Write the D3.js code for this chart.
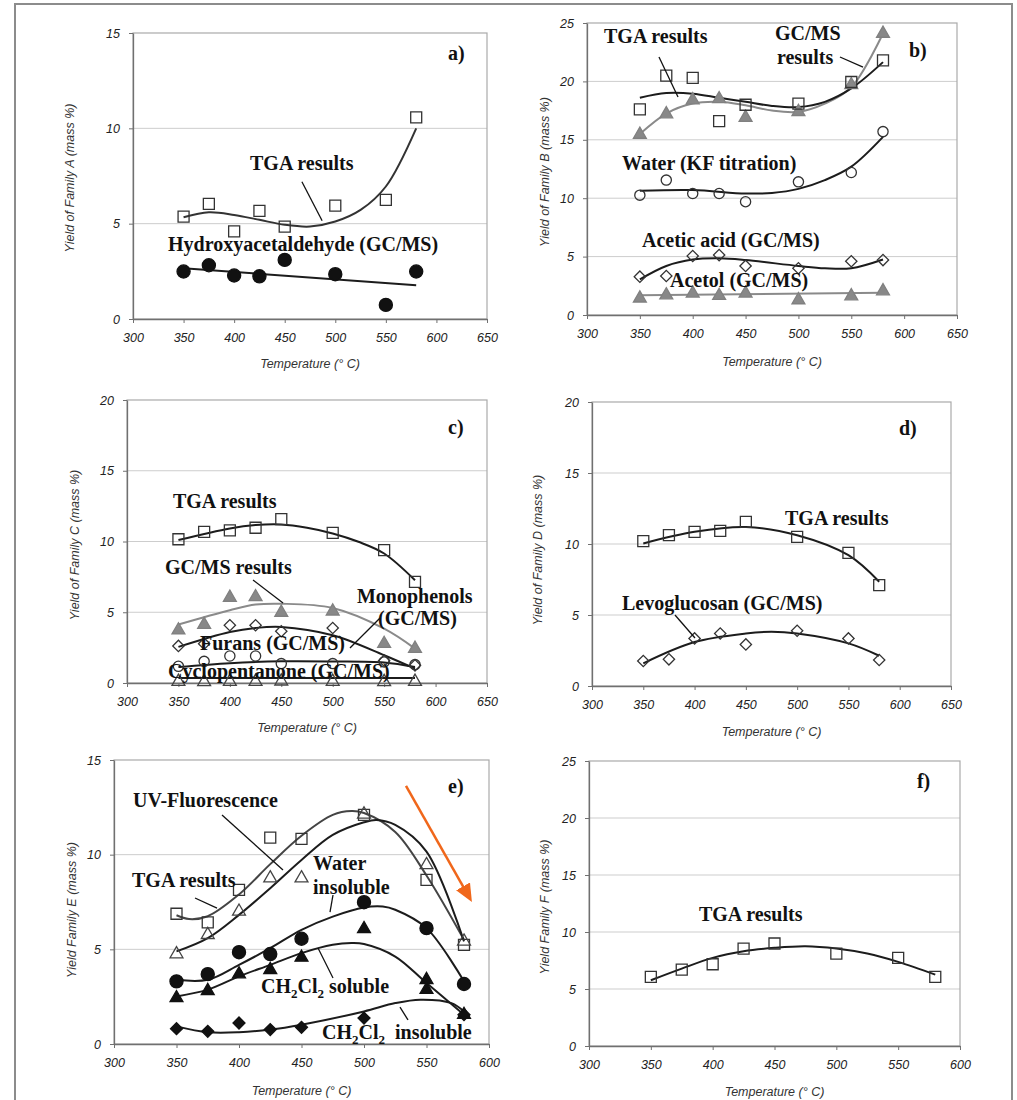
<!DOCTYPE html>
<html>
<head>
<meta charset="utf-8">
<script src="https://cdn.jsdelivr.net/npm/d3@7"></script>
<style>
  body { margin: 0; background: #fff; }
  svg { display: block; }
  .tick text { font-family: "Liberation Sans", Arial, sans-serif; font-style: italic; font-size: 12.5px; fill: #222; }
  .lbl { font-family: "Liberation Serif", "Times New Roman", serif; font-weight: bold; font-size: 20px; fill: #111; }
  .atitle { font-family: "Liberation Sans", Arial, sans-serif; font-style: italic; font-size: 12.5px; fill: #333; }
</style>
</head>
<body>
<svg id="chart" width="1017" height="1100"></svg>
<script>
// ---- shared axis values ----
const temps = [350, 375, 400, 425, 450, 500, 550, 580];
const xTicks650 = [300, 350, 400, 450, 500, 550, 600, 650];
const xTicks600 = [300, 350, 400, 450, 500, 550, 600];
const yTicks15 = [0, 5, 10, 15];
const yTicks20 = [0, 5, 10, 15, 20];
const yTicks25 = [0, 5, 10, 15, 20, 25];

// ---- a) Family A ----
const aTga = [5.37, 6.04, 4.6, 5.67, 4.85, 5.95, 6.25, 10.57];
const aHydroxy = [2.49, 2.82, 2.28, 2.24, 3.1, 2.35, 0.74, 2.49];
const aTgaFitT = [350, 375, 400, 425, 450, 475, 500, 525, 550, 580];
const aTgaFit = [5.34, 5.6, 5.46, 5.2, 4.94, 4.85, 5.11, 5.72, 6.95, 10.0];
const aHydroxyFitT = [350, 580];
const aHydroxyFit = [2.66, 1.77];

// ---- b) Family B ----
const bTga = [17.6, 20.5, 20.3, 16.6, 18.0, 18.1, 19.95, 21.8];
const bGcms = [15.45, 17.2, 18.4, 18.5, 16.9, 17.4, 19.7, 24.1];
const bWater = [10.26, 11.55, 10.4, 10.4, 9.7, 11.4, 12.2, 15.7];
const bAcetic = [3.28, 3.34, 5.05, 5.13, 4.2, 4.0, 4.6, 4.7];
const bAcetol = [1.43, 1.7, 1.85, 1.65, 1.85, 1.28, 1.62, 2.05];
const bFitT = [350, 375, 400, 425, 450, 475, 500, 525, 550, 580];
const bTgaFit = [18.6, 19.0, 18.95, 18.6, 18.25, 17.9, 17.8, 18.25, 19.4, 21.65];
const bGcmsFit = [15.5, 17.25, 18.1, 18.25, 17.95, 17.5, 17.4, 18.1, 19.5, 24.1];
const bWaterFitT = [350, 400, 450, 475, 500, 525, 550, 580];
const bWaterFit = [10.63, 10.7, 10.4, 10.45, 10.8, 11.55, 12.7, 15.25];
const bAceticFitT = [350, 375, 400, 425, 450, 500, 525, 550, 580];
const bAceticFit = [3.05, 4.2, 4.75, 4.85, 4.7, 4.2, 4.0, 4.0, 4.75];
const bAcetolFitT = [350, 580];
const bAcetolFit = [1.7, 1.9];

// ---- c) Family C ----
const cTga = [10.16, 10.68, 10.78, 10.97, 11.58, 10.61, 9.39, 7.15];
const cGcms = [3.73, 4.13, 6.04, 6.08, 4.98, 5.07, 2.78, 2.43];
const cMonophenols = [2.62, 2.78, 4.08, 4.08, 3.66, 3.89, 1.58, 1.25];
const cFurans = [1.18, 1.53, 1.91, 1.91, 1.37, 1.37, 1.49, 1.3];
const cCyclopentanone = [0.1, 0.08, 0.1, 0.1, 0.12, 0.1, 0.08, 0.1];
const cTgaFitT = [350, 400, 425, 450, 475, 500, 525, 550, 580];
const cTgaFit = [10.1, 10.92, 11.16, 11.2, 10.97, 10.57, 9.98, 9.15, 7.26];
const cGcmsFitT = [350, 400, 425, 450, 500, 550, 580];
const cGcmsFit = [4.13, 5.14, 5.54, 5.6, 5.3, 3.84, 2.43];
const cMonoFitT = [350, 400, 425, 450, 500, 550, 580];
const cMonoFit = [2.55, 3.6, 3.89, 3.96, 3.37, 1.96, 1.01];
const cFuransFitT = [350, 400, 450, 500, 550, 580];
const cFuransFit = [1.13, 1.4, 1.53, 1.52, 1.45, 1.13];
const cCycloFitT = [350, 580];
const cCycloFit = [0.35, 0.35];

// ---- d) Family D ----
const dTga = [10.2, 10.62, 10.86, 10.93, 11.56, 10.5, 9.38, 7.1];
const dLevo = [1.76, 1.88, 3.35, 3.7, 2.93, 3.89, 3.35, 1.83];
const dTgaFitT = [350, 400, 450, 500, 550, 580];
const dTgaFit = [10.04, 10.86, 11.2, 10.62, 9.21, 7.34];
const dLevoFitT = [350, 400, 450, 475, 500, 550, 580];
const dLevoFit = [1.6, 3.1, 3.7, 3.82, 3.7, 3.0, 2.13];

// ---- e) Family E ----
const eTga = [6.88, 6.42, 8.14, 10.9, 10.83, 12.1, 8.67, 5.24];
const eUv = [4.75, 5.77, 7.0, 8.76, 8.76, 12.13, 9.46, 5.42];
const eWaterInsol = [3.31, 3.69, 4.85, 4.75, 5.56, 7.49, 6.12, 3.17];
const eSolubleT = [350, 375, 400, 425, 450, 500, 550, 550, 580];
const eSoluble = [2.43, 2.81, 3.69, 3.92, 4.57, 6.08, 3.39, 2.87, 1.55];
const eInsolubleT = [350, 375, 400, 425, 450, 500, 580];
const eInsoluble = [0.81, 0.67, 1.11, 0.76, 0.88, 1.37, 1.55];
const eTgaFitT = [350, 360, 375, 400, 425, 450, 475, 490, 500, 525, 550, 580];
const eTgaFit = [6.8, 6.6, 6.75, 7.9, 9.5, 11.0, 12.1, 12.3, 12.2, 11.2, 8.9, 5.5];
const eUvFitT = [350, 375, 400, 425, 450, 475, 500, 510, 525, 550, 580];
const eUvFit = [4.89, 5.59, 6.82, 8.23, 9.72, 11.04, 11.71, 11.83, 11.57, 10.16, 5.42];
const eWaterFitT = [350, 375, 400, 425, 450, 475, 500, 515, 525, 550, 580];
const eWaterFit = [3.39, 3.39, 4.18, 5.06, 6.03, 6.73, 7.21, 7.26, 7.09, 6.12, 3.31];
const eSolFitT = [350, 375, 400, 425, 450, 475, 490, 500, 525, 550, 580];
const eSolFit = [2.51, 2.87, 3.57, 4.18, 4.8, 5.24, 5.33, 5.28, 4.62, 3.22, 1.55];
const eInsolFitT = [350, 375, 400, 425, 450, 500, 525, 545, 570, 580];
const eInsolFit = [0.93, 0.62, 0.62, 0.76, 1.02, 1.72, 2.16, 2.34, 2.16, 1.72];

// ---- f) Family F ----
const fTga = [6.06, 6.7, 7.17, 8.55, 8.99, 8.11, 7.73, 6.06];
const fFitT = [350, 375, 400, 425, 450, 475, 500, 525, 550, 580];
const fFit = [5.77, 6.79, 7.73, 8.31, 8.61, 8.75, 8.55, 8.11, 7.38, 6.26];

// ---- marker styles ----
const DARK = "#1c1c1c", GREY = "#8a8a8a";
const M = {
  squareOpen:   { type: d3.symbolSquare,   size: 121, fill: "none", stroke: "#333" },
  circleFilled: { type: d3.symbolCircle,   size: 135, fill: "#111", stroke: "#111" },
  circleOpen:   { type: d3.symbolCircle,   size: 82,  fill: "none", stroke: "#333" },
  diamondOpen:  { type: d3.symbolSquare,   size: 64,  fill: "none", stroke: "#333", rot: 45 },
  diamondFilled:{ type: d3.symbolSquare,   size: 72,  fill: "#111", stroke: "#111", rot: 45 },
  triGrey:      { type: d3.symbolTriangle, size: 72,  fill: "#888", stroke: "#808080" },
  triOpen:      { type: d3.symbolTriangle, size: 72,  fill: "none", stroke: "#444" },
  triFilled:    { type: d3.symbolTriangle, size: 72,  fill: "#111", stroke: "#111" }
};

// ---- panel definitions (layout in pixels, annotations in data units) ----
const panels = [
  { tag: "a", box: { l: 133, r: 487, t: 33, b: 319 }, xd: [300, 650], yd: [0, 15], xt: xTicks650, yt: yTicks15,
    ytitle: "Yield of Family A (mass %)", ytx: -63, yty: 178, xty: 368,
    fits: [[aTgaFitT, aTgaFit, "#333"], [aHydroxyFitT, aHydroxyFit, DARK]],
    series: [[temps, aTga, M.squareOpen], [temps, aHydroxy, M.circleFilled]],
    labels: [["TGA results", 415.7, 7.81], ["Hydroxyacetaldehyde (GC/MS)", 334.6, 3.58], ["a)", 611.4, 13.58]],
    leaders: [[467, 7.2, 487, 5.15]] },
  { tag: "b", box: { l: 587, r: 957, t: 23, b: 315 }, xd: [300, 650], yd: [0, 25], xt: xTicks650, yt: yTicks25,
    ytitle: "Yield of Family B (mass %)", ytx: -42, yty: 172, xty: 366,
    fits: [[bFitT, bGcmsFit, GREY], [bFitT, bTgaFit, DARK], [bWaterFitT, bWaterFit, DARK],
           [bAceticFitT, bAceticFit, DARK], [bAcetolFitT, bAcetolFit, GREY]],
    series: [[temps, bGcms, M.triGrey], [temps, bTga, M.squareOpen], [temps, bWater, M.circleOpen],
             [temps, bAcetic, M.diamondOpen], [temps, bAcetol, M.triGrey]],
    labels: [["TGA results", 316.1, 23.29], ["GC/MS", 477.8, 23.54], ["results", 479.7, 21.49], ["b)", 604.6, 22.09],
             ["Water (KF titration)", 333.1, 12.41], ["Acetic acid (GC/MS)", 352.0, 5.82], ["Acetol (GC/MS)", 378.5, 2.40]],
    leaders: [[368.1, 22.09, 386.1, 18.66], [539.3, 22.09, 561.1, 21.23]] },
  { tag: "c", box: { l: 127, r: 487, t: 400, b: 683 }, xd: [300, 650], yd: [0, 20], xt: xTicks650, yt: yTicks20,
    ytitle: "Yield of Family C (mass %)", ytx: -52, yty: 545, xty: 732,
    fits: [[cTgaFitT, cTgaFit, DARK], [cGcmsFitT, cGcmsFit, GREY], [cMonoFitT, cMonoFit, DARK],
           [cFuransFitT, cFuransFit, DARK], [cCycloFitT, cCycloFit, DARK]],
    series: [[temps, cTga, M.squareOpen], [temps, cGcms, M.triGrey], [temps, cMonophenols, M.diamondOpen],
             [temps, cFurans, M.circleOpen], [temps, cCyclopentanone, M.triOpen]],
    labels: [["TGA results", 344.7, 12.37], ["GC/MS results", 336.9, 7.70], ["Monophenols", 523.6, 5.65],
             ["(GC/MS)", 544.0, 4.10], ["Furans (GC/MS)", 371.0, 2.33], ["Cyclopentanone (GC/MS)", 339.9, 0.35], ["c)", 612.1, 17.6]],
    leaders: [[422.5, 7.28, 451.7, 5.65], [546.0, 4.59, 516.8, 2.47]] },
  { tag: "d", box: { l: 592, r: 951, t: 402, b: 686 }, xd: [300, 650], yd: [0, 20], xt: xTicks650, yt: yTicks20,
    ytitle: "Yield of Family D (mass %)", ytx: -54, yty: 550, xty: 736,
    fits: [[dTgaFitT, dTgaFit, DARK], [dLevoFitT, dLevoFit, DARK]],
    series: [[temps, dTga, M.squareOpen], [temps, dLevo, M.diamondOpen]],
    labels: [["TGA results", 488.2, 11.34], ["Levoglucosan (GC/MS)", 329.2, 5.35], ["d)", 599.3, 17.68]],
    leaders: [[380.9, 5.0, 400.4, 3.38]] },
  { tag: "e", box: { l: 114, r: 489, t: 760, b: 1044 }, xd: [300, 600], yd: [0, 15], xt: xTicks600, yt: yTicks15,
    ytitle: "Yield Family E (mass %)", ytx: -42, yty: 910, xty: 1095,
    fits: [[eTgaFitT, eTgaFit, "#444"], [eUvFitT, eUvFit, DARK], [eWaterFitT, eWaterFit, DARK],
           [eSolFitT, eSolFit, DARK], [eInsolFitT, eInsolFit, DARK]],
    series: [[temps, eTga, M.squareOpen], [temps, eUv, M.triOpen], [temps, eWaterInsol, M.circleFilled],
             [eSolubleT, eSoluble, M.triFilled], [eInsolubleT, eInsoluble, M.diamondFilled]],
    labels: [["UV-Fluorescence", 315.2, 12.52], ["TGA results", 314.4, 8.29], ["Water", 459.2, 9.19],
             ["insoluble", 459.2, 7.92], ["CH|2|Cl|2| soluble", 417.6, 2.69], ["CH|2|Cl|2|  insoluble", 466.4, 0.26], ["e)", 567.2, 13.26]],
    leaders: [[386.4, 12.10, 435.2, 9.19], [364.8, 7.71, 382.4, 7.18], [475.2, 7.87, 472.8, 6.97],
              [463.2, 5.07, 475.2, 3.49], [528.8, 1.95, 535.2, 1.27]],
    arrow: [533.6, 13.63, 580.8, 8.14] },
  { tag: "f", box: { l: 589, r: 960, t: 761, b: 1046 }, xd: [300, 600], yd: [0, 25], xt: xTicks600, yt: yTicks25,
    ytitle: "Yield Family F (mass %)", ytx: -44, yty: 907, xty: 1096,
    fits: [[fFitT, fFit, DARK]],
    series: [[temps, fTga, M.squareOpen]],
    labels: [["TGA results", 388.9, 10.96], ["f)", 565.2, 22.63]],
    leaders: [] }
];

const svg = d3.select("#chart");

// outer frame of the figure
svg.append("path")
  .attr("d", "M15,1100 L15,4 L1012,4 L1012,1100")
  .attr("fill", "none").attr("stroke", "#8c8c8c").attr("stroke-width", 2);

// arrowhead for the orange trend arrow
svg.append("defs").append("marker")
  .attr("id", "arrowHead").attr("markerUnits", "userSpaceOnUse")
  .attr("markerWidth", 20).attr("markerHeight", 20)
  .attr("refX", 4).attr("refY", 8).attr("orient", "auto")
  .append("path").attr("d", "M0,0 L18,8 L0,16 Z").attr("fill", "#f0671b");

function drawPanel(p) {
  const x = d3.scaleLinear().domain(p.xd).range([p.box.l, p.box.r]);
  const y = d3.scaleLinear().domain(p.yd).range([p.box.b, p.box.t]);
  const g = svg.append("g").attr("class", "panel-" + p.tag);

  // horizontal gridlines
  g.selectAll("line.grid")
    .data(p.yt.filter(v => v > p.yd[0] && v < p.yd[1]))
    .join("line").attr("class", "grid")
    .attr("x1", x(p.xd[0])).attr("x2", x(p.xd[1]))
    .attr("y1", d => y(d)).attr("y2", d => y(d))
    .attr("stroke", "#cdcdcd").attr("stroke-width", 1);

  // plot area border
  g.append("rect")
    .attr("x", x(p.xd[0])).attr("y", y(p.yd[1]))
    .attr("width", x(p.xd[1]) - x(p.xd[0])).attr("height", y(p.yd[0]) - y(p.yd[1]))
    .attr("fill", "none").attr("stroke", "#aaa").attr("stroke-width", 1.2);

  // axes
  const gx = g.append("g").attr("transform", `translate(0,${p.box.b})`)
    .call(d3.axisBottom(x).tickValues(p.xt).tickSize(4).tickSizeOuter(0).tickPadding(10));
  const gy = g.append("g").attr("transform", `translate(${p.box.l},0)`)
    .call(d3.axisLeft(y).tickValues(p.yt).tickSize(4).tickSizeOuter(0).tickPadding(9));
  [gx, gy].forEach(a => {
    a.select(".domain").attr("stroke", "#707070").attr("stroke-width", 1.3);
    a.selectAll(".tick line").attr("stroke", "#707070");
  });

  // axis titles
  g.append("text").attr("class", "atitle")
    .attr("x", (p.box.l + p.box.r) / 2).attr("y", p.xty)
    .attr("text-anchor", "middle").text("Temperature (° C)");
  g.append("text").attr("class", "atitle")
    .attr("transform", `translate(${p.box.l + p.ytx},${p.yty}) rotate(-90)`)
    .attr("text-anchor", "middle").attr("dy", "0.35em").text(p.ytitle);

  // fitted curves
  const line = d3.line().x(d => x(d[0])).y(d => y(d[1])).curve(d3.curveCatmullRom.alpha(0.5));
  p.fits.forEach(([tx, ty, col]) => {
    g.append("path").datum(d3.zip(tx, ty)).attr("d", line)
      .attr("fill", "none").attr("stroke", col).attr("stroke-width", 2);
  });

  // measured points
  p.series.forEach(([tx, ty, m]) => {
    const sym = d3.symbol().type(m.type).size(m.size);
    g.append("g").selectAll("path")
      .data(d3.zip(tx, ty)).join("path")
      .attr("d", sym)
      .attr("transform", d => `translate(${x(d[0])},${y(d[1])})` + (m.rot ? ` rotate(${m.rot})` : ""))
      .attr("fill", m.fill).attr("stroke", m.stroke).attr("stroke-width", 1.3);
  });

  // leader lines from labels to curves
  p.leaders.forEach(([x1, y1, x2, y2]) => {
    g.append("line")
      .attr("x1", x(x1)).attr("y1", y(y1)).attr("x2", x(x2)).attr("y2", y(y2))
      .attr("stroke", "#111").attr("stroke-width", 1.3);
  });

  // orange trend arrow
  if (p.arrow) {
    const [x1, y1, x2, y2] = p.arrow;
    g.append("line")
      .attr("x1", x(x1)).attr("y1", y(y1)).attr("x2", x(x2)).attr("y2", y(y2))
      .attr("stroke", "#f0671b").attr("stroke-width", 2.5)
      .attr("marker-end", "url(#arrowHead)");
  }

  // labels ("|" separates runs; odd runs are subscripts)
  p.labels.forEach(([txt, lx, ly]) => {
    const t = g.append("text").attr("class", "lbl").attr("x", x(lx)).attr("y", y(ly))
      .attr("xml:space", "preserve");
    const parts = txt.split("|");
    if (parts.length === 1) { t.text(txt); return; }
    parts.forEach((s, i) => {
      const sub = i % 2 === 1;
      const prevSub = i > 0 && (i - 1) % 2 === 1;
      const ts = t.append("tspan").text(s);
      if (sub) ts.attr("dy", 5).style("font-size", "13px");
      else if (prevSub) ts.attr("dy", -5);
    });
  });
}

panels.forEach(drawPanel);
</script>
</body>
</html>
